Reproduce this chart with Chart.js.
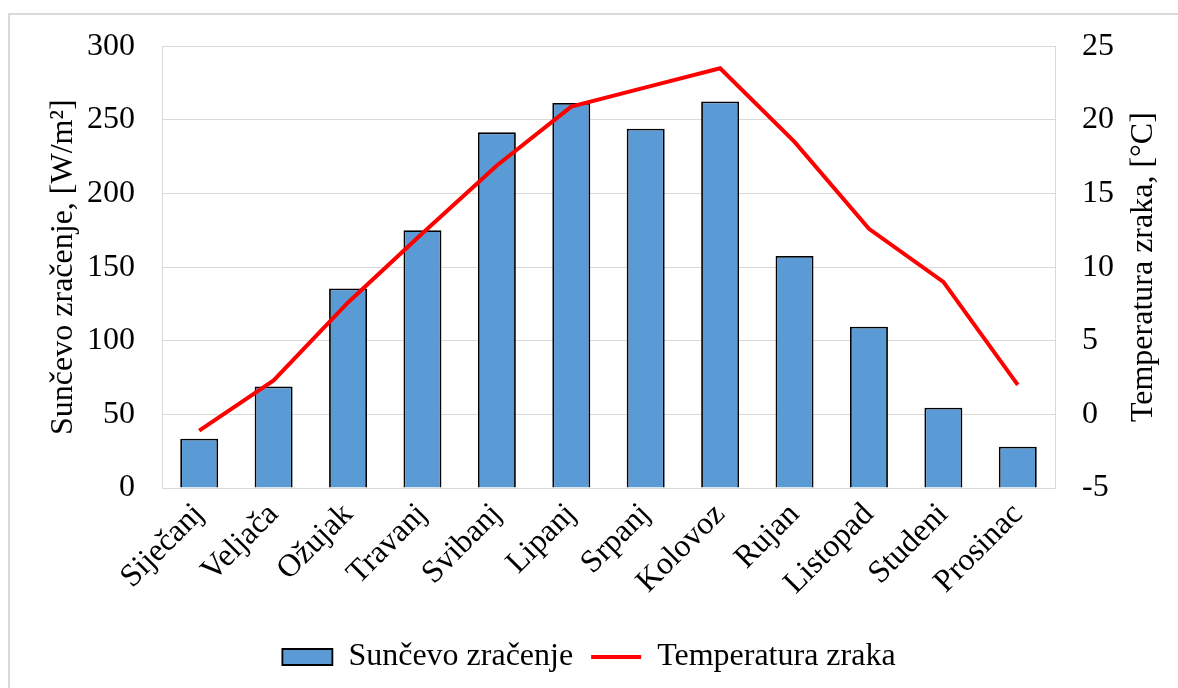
<!DOCTYPE html>
<html>
<head>
<meta charset="utf-8">
<script src="https://cdn.jsdelivr.net/npm/chart.js@4"></script>
<style>
  html, body { margin: 0; padding: 0; background: #fff; }
  .wrap { width: 1178px; height: 688px; }
</style>
</head>
<body>
<div class="wrap"><canvas id="chart" width="1178" height="688"></canvas></div>
<script>
// month labels and values
const months = ['Siječanj', 'Veljača', 'Ožujak', 'Travanj', 'Svibanj', 'Lipanj',
  'Srpanj', 'Kolovoz', 'Rujan', 'Listopad', 'Studeni', 'Prosinac'];
const radiation = [33.5, 69, 135.5, 175, 241.5, 261.5, 244, 262.5, 157.5, 109.5, 54.5, 28];
const temperature = [-1.1, 2.3, 7.6, 12.3, 16.9, 20.9, 22.2, 23.5, 18.5, 12.6, 9.0, 2.0];

const serif = "'Liberation Serif', 'Times New Roman', serif";
const gridColor = '#d9d9d9';

// outer frame + right axis title (drawn bottom-to-top like the original)
const extras = {
  id: 'extras',
  beforeDraw(chart) {
    const ctx = chart.ctx;
    ctx.save();
    ctx.strokeStyle = '#d9d9d9';
    ctx.lineWidth = 2;
    ctx.strokeRect(9, 14, 1200, 700);
    ctx.restore();
  },
  afterDraw(chart) {
    const ctx = chart.ctx;
    const sc = chart.scales.y2;
    const area = chart.chartArea;
    ctx.save();
    ctx.font = '32px ' + serif;
    ctx.fillStyle = '#000';
    ctx.textAlign = 'center';
    ctx.textBaseline = 'middle';
    ctx.translate(sc.right - 34, (area.top + area.bottom) / 2);
    ctx.rotate(-Math.PI / 2);
    ctx.fillText('Temperatura zraka, [°C]', 0, 0);
    ctx.restore();
  }
};

new Chart(document.getElementById('chart'), {
  data: {
    labels: months,
    datasets: [
      {
        type: 'line',
        label: 'Temperatura zraka',
        data: temperature,
        yAxisID: 'y2',
        borderColor: '#ff0000',
        backgroundColor: '#ff0000',
        borderWidth: 4,
        pointRadius: 0,
        pointStyle: 'line',
        tension: 0,
        order: 0
      },
      {
        type: 'bar',
        label: 'Sunčevo zračenje',
        data: radiation,
        yAxisID: 'y',
        backgroundColor: '#5b9bd5',
        borderColor: '#000',
        borderWidth: 1.8,
        pointStyle: 'rect',
        categoryPercentage: 1,
        barPercentage: 0.51,
        order: 1
      }
    ]
  },
  options: {
    responsive: false,
    animation: false,
    layout: { padding: { top: 44, left: 0, right: 0, bottom: 5 } },
    plugins: {
      tooltip: { enabled: false },
      legend: {
        position: 'bottom',
        reverse: true,
        labels: {
          usePointStyle: true,
          pointStyleWidth: 50,
          boxHeight: 16,
          color: '#000',
          padding: 18,
          font: { family: serif, size: 32 }
        }
      }
    },
    scales: {
      x: {
        grid: { display: false },
        border: { color: gridColor, width: 1 },
        ticks: {
          color: '#000',
          font: { family: serif, size: 32 },
          maxRotation: 45,
          minRotation: 45,
          padding: 0
        },
        afterFit(scale) { scale.height = 135; }
      },
      y: {
        position: 'left',
        min: 0,
        max: 300,
        ticks: {
          stepSize: 50,
          color: '#000',
          padding: 27,
          font: { family: serif, size: 32 }
        },
        grid: { color: gridColor, lineWidth: 1, drawTicks: false },
        border: { color: gridColor, width: 1 },
        title: {
          display: true,
          text: 'Sunčevo zračenje, [W/m²]',
          color: '#000',
          font: { family: serif, size: 32 },
          padding: { top: 44, bottom: 0 }
        },
        afterFit(scale) { scale.width = 162; }
      },
      y2: {
        position: 'right',
        min: -5,
        max: 25,
        ticks: {
          stepSize: 5,
          color: '#000',
          padding: 27,
          font: { family: serif, size: 32 }
        },
        grid: { display: false, drawTicks: false },
        border: { color: gridColor, width: 1 },
        afterFit(scale) { scale.width = 123; }
      }
    }
  },
  plugins: [extras]
});
</script>
</body>
</html>
